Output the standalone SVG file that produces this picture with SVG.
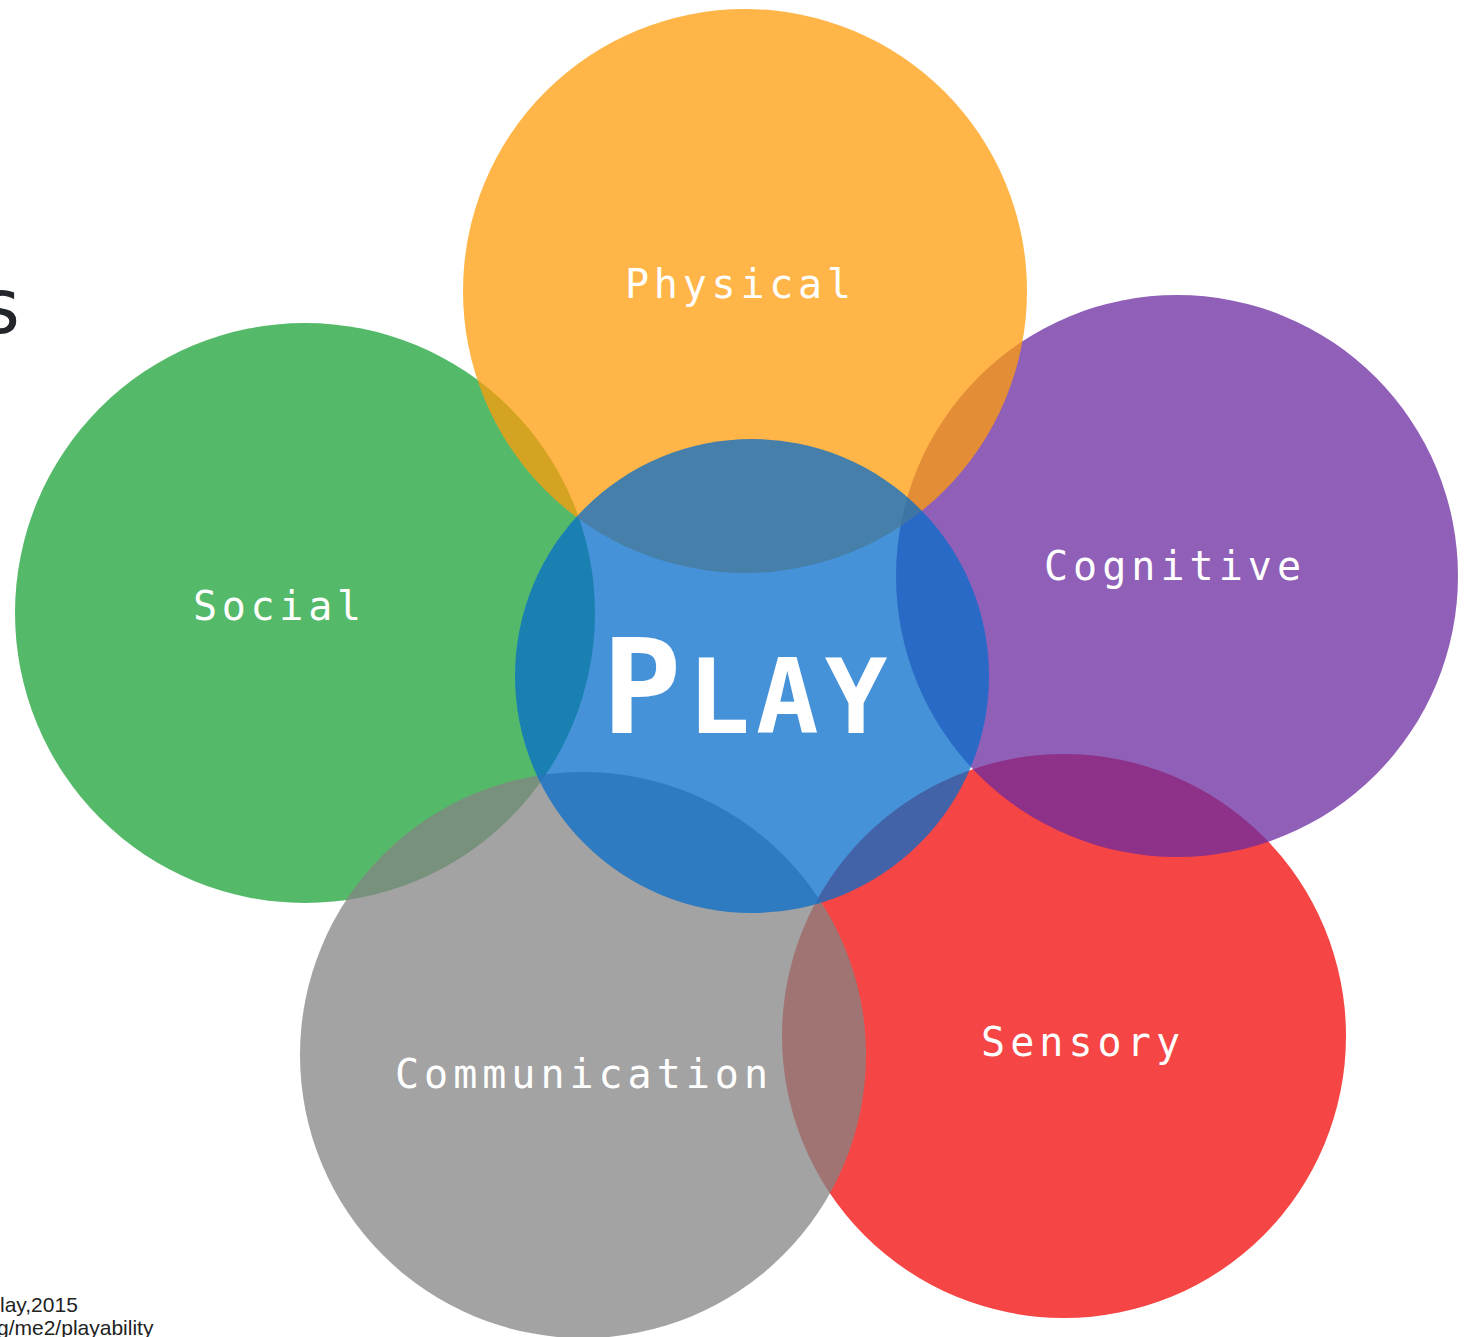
<svg xmlns="http://www.w3.org/2000/svg" width="1468" height="1337" viewBox="0 0 1468 1337">
<style>
.c{fill-opacity:0.75}
.lbl{font-family:"DejaVu Sans Mono","Liberation Mono",monospace;font-size:40px;fill:#ffffff}
.note{font-family:"Liberation Sans",Arial,sans-serif;font-size:21px;fill:#222222}
</style>
<rect width="1468" height="1337" fill="#ffffff"/>
<text x="-22" y="333" font-family="DejaVu Sans Mono, monospace" font-size="76" fill="#22262a">s</text>
<g id="sensory"><circle class="c" cx="1064" cy="1036" r="282" fill="#f20707"/></g>
<g id="social"><circle class="c" cx="305" cy="613" r="290" fill="#1ca238"/></g>
<g id="cognitive"><circle class="c" cx="1177" cy="576" r="281" fill="#6b2ba0"/></g>
<g id="communication"><circle class="c" cx="583" cy="1055" r="283" fill="#848484"/></g>
<g id="physical"><circle class="c" cx="745" cy="291" r="282" fill="#ff9c0b"/></g>
<g id="play"><circle class="c" cx="752" cy="676" r="237" fill="#076ecb"/></g>
<g id="labels">
<text class="lbl" x="625" y="298" textLength="226" lengthAdjust="spacing">Physical</text>
<text class="lbl" x="1044" y="580" textLength="257" lengthAdjust="spacing">Cognitive</text>
<text class="lbl" x="193" y="620" textLength="168" lengthAdjust="spacing">Social</text>
<text class="lbl" x="395" y="1088" textLength="373" lengthAdjust="spacing">Communication</text>
<text class="lbl" x="981" y="1056" textLength="199" lengthAdjust="spacing">Sensory</text>
<text x="602" y="733" font-family="DejaVu Sans Mono, monospace" font-weight="bold" fill="#ffffff"><tspan font-size="132">P</tspan><tspan font-size="104" dx="6">L</tspan><tspan font-size="104" dx="6">A</tspan><tspan font-size="104" dx="6">Y</tspan></text>
</g>
<text class="note" x="0" y="1312">lay,2015</text>
<text class="note" x="-3" y="1335">g/me2/playability</text>
</svg>
